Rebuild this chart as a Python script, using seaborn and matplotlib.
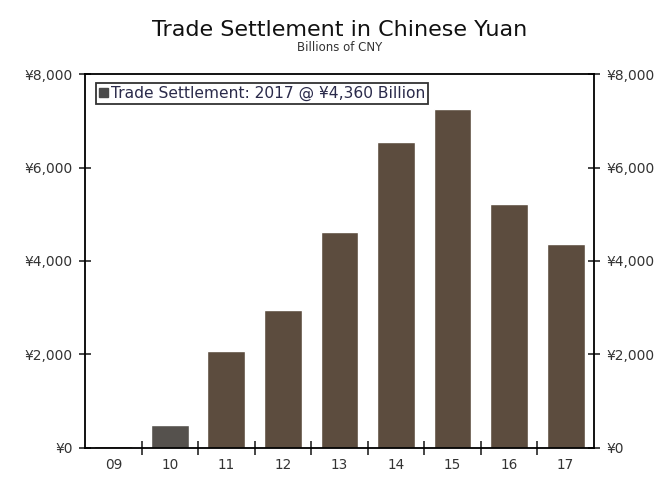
import matplotlib
matplotlib.use("Agg")
import matplotlib.pyplot as plt
import matplotlib.ticker as mticker
from matplotlib.patches import Patch
import seaborn as sns
import pandas as pd

years = ["09", "10", "11", "12", "13", "14", "15", "16", "17"]
settlement = [36, 490, 2075, 2950, 4620, 6545, 7250, 5220, 4360]
bar_colors = ["#5c4c3e", "#55514d", "#5c4c3e", "#5c4c3e", "#5c4c3e",
              "#5c4c3e", "#5c4c3e", "#5c4c3e", "#5c4c3e"]
y_ticks = [0, 2000, 4000, 6000, 8000]
y_labels = ["¥0", "¥2,000", "¥4,000", "¥6,000", "¥8,000"]
legend_label = "Trade Settlement: 2017 @ ¥4,360 Billion"

sns.set_theme(style="white")
plt.rcParams["font.family"] = ["DejaVu Sans"]

df = pd.DataFrame({"year": years, "value": settlement})

fig = plt.figure(figsize=(6.65, 4.78), dpi=100)
ax = fig.add_axes([0.128, 0.063, 0.765, 0.782])

sns.barplot(data=df, x="year", y="value", hue="year", palette=bar_colors,
            width=0.67, legend=False, ax=ax, saturation=1)

ax.set_xlim(-0.5, len(years) - 0.5)
ax.set_ylim(0, 8000)
ax.set_xlabel("")
ax.set_ylabel("")

ax.set_yticks(y_ticks)
ax.set_yticklabels(y_labels)
ax.tick_params(axis="y", which="major", direction="inout", length=8, width=1.2,
               labelsize=10, labelcolor="#333333", left=True, right=True,
               labelleft=True, labelright=True, pad=5)

ax.set_xticks(range(len(years)))
ax.set_xticklabels(years)
ax.xaxis.set_minor_locator(mticker.FixedLocator([i + 0.5 for i in range(len(years) - 1)]))
ax.tick_params(axis="x", which="major", length=0, labelsize=9.8, labelcolor="#333333", pad=7)
ax.tick_params(axis="x", which="minor", direction="inout", length=10, width=1.2, bottom=True)

for s in ax.spines.values():
    s.set_visible(True)
    s.set_color("black")
    s.set_linewidth(1.3)

leg = ax.legend(handles=[Patch(facecolor="#4a4a4a", edgecolor="#4a4a4a")],
                labels=[legend_label], loc="upper left",
                bbox_to_anchor=(0.015, 0.985), fontsize=11.2, frameon=True,
                fancybox=False, handlelength=0.55, handleheight=0.55,
                handletextpad=0.2, borderpad=0.2, borderaxespad=0.2)
leg.get_frame().set_edgecolor("black")
leg.get_frame().set_linewidth(1.3)
for t in leg.get_texts():
    t.set_color("#2a2a4a")

fig.text(0.51, 0.938, "Trade Settlement in Chinese Yuan", ha="center", va="center",
         fontsize=16, color="#111111")
fig.text(0.51, 0.900, "Billions of CNY", ha="center", va="center",
         fontsize=8.5, color="#333333")

fig.savefig("out.png", dpi=100, facecolor="white")
